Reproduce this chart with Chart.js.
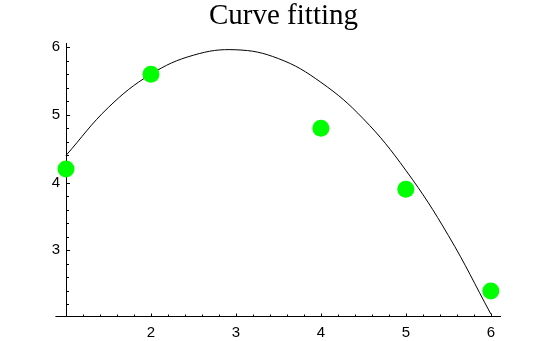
<!DOCTYPE html>
<html>
<head>
<meta charset="utf-8">
<script src="https://cdn.jsdelivr.net/npm/chart.js@4/dist/chart.umd.min.js"></script>
<style>
  body { margin: 0; background: #fff; }
  #wrap { width: 551px; height: 341px; position: relative; }
</style>
</head>
<body>
<div id="wrap"><canvas id="fitChart"></canvas></div>
<script>
// measured data points
const pointX = [1, 2, 4, 5, 6];
const pointY = [4.2, 5.6, 4.8, 3.9, 2.4];

// fitted curve
const curveX = [1, 1.5, 2, 2.5, 3, 3.5, 4, 4.5, 5, 5.5, 6];
const curveY = [4.40, 5.11, 5.60, 5.88, 5.96, 5.83, 5.48, 4.94, 4.18, 3.22, 2.06];

const xTicks = [2, 3, 4, 5, 6];
const yTicks = [3, 4, 5, 6];

const xMin = 1, xMax = 6.12, xAxisStart = 0.875;
const yMin = 2.015, yMax = 6.06;

// axes with inward ticks, Mathematica style
const axesPlugin = {
    id: 'axes',
    beforeDatasetsDraw(chart) {
        const c = chart.ctx;
        const xs = chart.scales.x, ys = chart.scales.y;
        const x0 = Math.round(xs.getPixelForValue(xMin)) + 0.5;
        const y0 = Math.round(ys.getPixelForValue(yMin)) - 0.5;
        c.save();
        c.strokeStyle = '#000';
        c.lineWidth = 1;
        c.beginPath();
        c.moveTo(xs.getPixelForValue(xAxisStart), y0);
        c.lineTo(xs.getPixelForValue(xMax), y0);
        c.moveTo(x0, y0);
        c.lineTo(x0, ys.getPixelForValue(yMax));
        for (let v = 1.2; v < xMax; v += 0.2) {
            const px = Math.round(xs.getPixelForValue(v)) + 0.5;
            const major = Math.abs(v - Math.round(v)) < 0.01;
            c.moveTo(px, y0);
            c.lineTo(px, y0 - (major ? 3 : 2));
        }
        for (let v = 2.2; v < yMax; v += 0.2) {
            const py = Math.round(ys.getPixelForValue(v)) + 0.5;
            const major = Math.abs(v - Math.round(v)) < 0.01;
            c.moveTo(x0, py);
            c.lineTo(x0 + (major ? 3.5 : 2.5), py);
        }
        c.stroke();
        c.restore();
    }
};

const tickFont = { family: 'Liberation Sans', size: 15 };

new Chart(document.getElementById('fitChart'), {
    type: 'scatter',
    data: {
        datasets: [{
            label: 'data',
            data: pointX.map((x, i) => ({ x: x, y: pointY[i] })),
            backgroundColor: '#00ff00',
            borderWidth: 0,
            pointRadius: 8.5,
            pointHoverRadius: 8.5,
            clip: false,
            order: 0
        }, {
            label: 'fit',
            data: curveX.map((x, i) => ({ x: x, y: curveY[i] })),
            showLine: true,
            borderColor: '#000',
            borderWidth: 1,
            pointRadius: 0,
            tension: 0.4,
            clip: false,
            order: 1
        }]
    },
    options: {
        responsive: true,
        maintainAspectRatio: false,
        animation: false,
        layout: { padding: { left: 0, right: 50, top: 0, bottom: 0 } },
        plugins: {
            legend: { display: false },
            tooltip: { enabled: false },
            title: {
                display: true,
                text: 'Curve fitting',
                color: '#000',
                fullSize: false,
                font: { family: 'Liberation Serif', size: 29, weight: 'normal', lineHeight: 1.0 },
                padding: { top: 2, bottom: 12 }
            }
        },
        scales: {
            x: {
                type: 'linear',
                min: xMin,
                max: xMax,
                grid: { display: false, drawTicks: false },
                border: { display: false },
                afterBuildTicks: s => { s.ticks = xTicks.map(v => ({ value: v })); },
                afterFit: s => { s.height = 24; },
                ticks: { color: '#000', font: tickFont, padding: 7, maxRotation: 0 }
            },
            y: {
                type: 'linear',
                min: yMin,
                max: yMax,
                grid: { display: false, drawTicks: false },
                border: { display: false },
                afterBuildTicks: s => { s.ticks = yTicks.map(v => ({ value: v })); },
                afterFit: s => { s.width = 66; },
                ticks: { color: '#000', font: tickFont, padding: 6 }
            }
        }
    },
    plugins: [axesPlugin]
});
</script>
</body>
</html>
